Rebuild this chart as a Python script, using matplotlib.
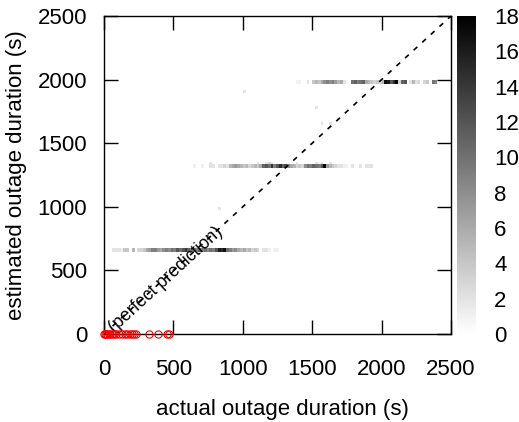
import numpy as np
import matplotlib
matplotlib.use("Agg")
import matplotlib.pyplot as plt
from matplotlib.colors import LinearSegmentedColormap
import matplotlib.transforms as mtransforms

# ---------------- data ----------------
BIN = 20      # seconds per cell along x
ROW_H = 26    # seconds per cell along y

band1_y = 660
band1_x0 = 60
band1_counts = [2, 2, 2, 1, 4, 4, 0, 5, 0, 3, 3, 4, 6, 7, 9, 9, 7, 6, 8, 9,
                8, 10, 9, 12, 10, 12, 14, 11, 9, 10, 8, 11, 9, 10, 8, 10, 9, 12, 16, 15,
                17, 10, 9, 7, 8, 6, 5, 6, 4, 5, 3, 4, 3, 0, 2, 2, 1, 0, 1, 1]

band2_y = 1320
band2_x0 = 640
band2_counts = [1, 0, 0, 1, 0, 0, 2, 2, 0, 2, 2, 3, 2, 5, 6, 7, 6, 5, 4, 5,
                3, 4, 5, 4, 6, 11, 12, 10, 14, 9, 12, 15, 11, 13, 8, 6, 5, 3, 4, 3,
                8, 10, 9, 11, 10, 9, 12, 18, 7, 5, 4, 3, 2, 2, 1, 1, 0, 2, 0, 0,
                2, 0, 2, 2, 2]

band2_upper_y = 1338
band2_upper_x = [760, 1100, 1160, 1180, 1200, 1380, 1520, 1540, 1560, 1620]
band2_upper_counts = [2, 2, 2, 3, 2, 2, 2, 1, 2, 2]

band3_y = 1980
band3_x0 = 1380
band3_counts = [1, 1, 0, 0, 2, 0, 4, 5, 4, 6, 8, 9, 8, 9, 7, 5, 6, 2, 1, 0,
                10, 11, 9, 10, 11, 6, 5, 4, 3, 4, 3, 5, 17, 16, 12, 15, 18, 3, 11, 12,
                0, 2, 5, 2, 3, 0, 3, 4, 0, 10, 9]

isolated_x = [1000, 1520, 1560, 1620, 820]
isolated_y = [1905, 1780, 1655, 1655, 985]
isolated_counts = [2, 2, 2, 2, 2]

zero_est_x = [0, 8, 15, 25, 35, 45, 60, 75, 90, 110, 130, 150, 165, 185, 200,
              215, 230, 326, 386, 455, 470]

x_ticks = [0, 500, 1000, 1500, 2000, 2500]
y_ticks = [0, 500, 1000, 1500, 2000, 2500]
cb_ticks = list(range(0, 19, 2))

# ---------------- plot ----------------
plt.rcParams['font.family'] = ['Liberation Sans', 'DejaVu Sans']
W, Hpx = 519, 422
fig = plt.figure(figsize=(W / 100, Hpx / 100), dpi=100)
ax = fig.add_axes([104 / W, 1 - 334 / Hpx, (451 - 104) / W, (334 - 16) / Hpx])

cmap = LinearSegmentedColormap.from_list('wb', ['#ffffff', '#000000'])


def draw_row(y, x_left, counts):
    x_left = np.asarray(x_left, dtype=float)
    c = np.ma.masked_equal(np.asarray(counts, dtype=float), 0)
    m = None
    for xl, v in zip(x_left, c):
        if np.ma.is_masked(v):
            continue
        m = ax.pcolormesh([xl, xl + BIN], [y - ROW_H / 2, y + ROW_H / 2],
                          [[v]], cmap=cmap, vmin=0, vmax=18,
                          antialiased=False, zorder=2)
    return m


mesh = None
draw_row(band2_upper_y, band2_upper_x, band2_upper_counts)
for y0, x0, cnts in [(band1_y, band1_x0, band1_counts),
                     (band2_y, band2_x0, band2_counts),
                     (band3_y, band3_x0, band3_counts)]:
    mesh = draw_row(y0, x0 + BIN * np.arange(len(cnts)), cnts)
for x, y, c in zip(isolated_x, isolated_y, isolated_counts):
    draw_row(y, [x], [c])

ax.plot([0, 2500], [0, 2500], color='black', lw=1.2, ls=(0, (3, 4)), zorder=3)

offset = mtransforms.offset_copy(ax.transData, fig=fig, x=3.0, y=-3.3, units='points')
ax.text(440, 440, '(perfect prediction)', rotation=45, transform_rotates_text=True,
        rotation_mode='anchor', ha='center', va='baseline', fontsize=12.8,
        transform=offset, zorder=4)

ax.plot(zero_est_x, np.zeros(len(zero_est_x)), 'o', mfc='none', mec='red',
        ms=5.2, mew=0.8, clip_on=False, zorder=6)

ax.set_xlim(0, 2500)
ax.set_ylim(0, 2500)
ax.set_xticks(x_ticks)
ax.set_yticks(y_ticks)
ax.tick_params(direction='in', length=10, width=1, top=True, right=True,
               labelsize=16)
ax.tick_params(axis='x', pad=18)
ax.tick_params(axis='y', pad=12)
for s in ax.spines.values():
    s.set_linewidth(1.0)

fig.text(282 / W, 1 - 410 / Hpx, 'actual outage duration (s)', ha='center',
         va='center', fontsize=16)
fig.text(17 / W, 1 - 175 / Hpx, 'estimated outage duration (s)', ha='center',
         va='center', rotation=90, fontsize=16)

cax = fig.add_axes([457 / W, 1 - 334 / Hpx, 19 / W, 318 / Hpx])
cb = fig.colorbar(mesh, cax=cax, ticks=cb_ticks)
cb.outline.set_visible(False)
cax.tick_params(length=0, pad=13, labelsize=16)

fig.savefig('out.png', dpi=100)
